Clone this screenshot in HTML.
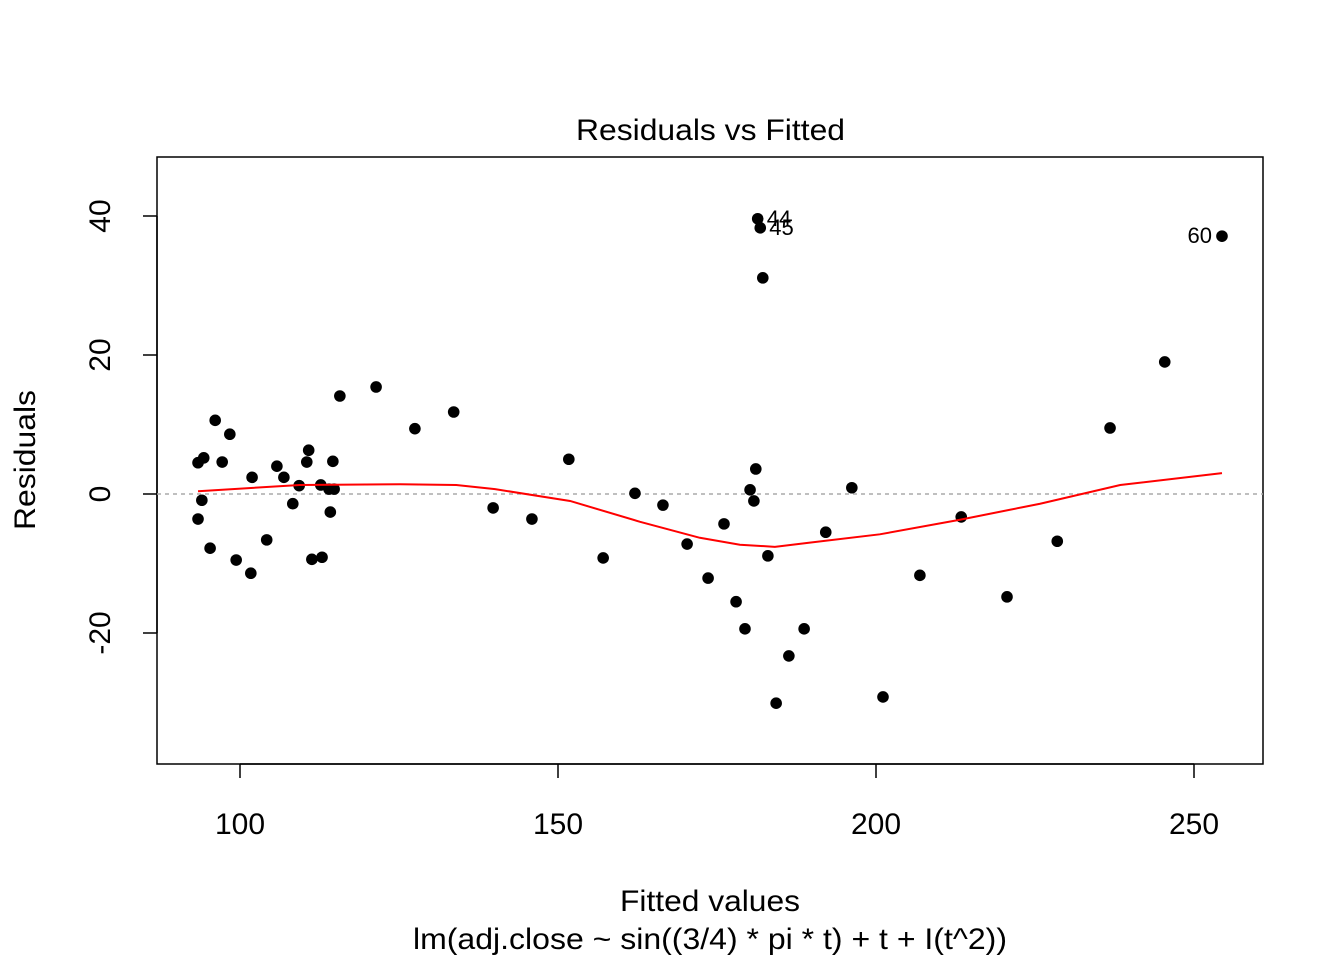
<!DOCTYPE html>
<html><head><meta charset="utf-8"><style>
body{margin:0;background:#fff}
svg text{font-family:"Liberation Sans",Arial,sans-serif;fill:#000}
</style></head><body>
<svg id="chart" width="1344" height="960">
<text x="576" y="140" font-size="30" textLength="269" lengthAdjust="spacingAndGlyphs">Residuals vs Fitted</text>
<rect x="157" y="157" width="1106" height="607" fill="none" stroke="#000" stroke-width="1.5"/>
<g id="xaxis"></g>
<g id="yaxis"></g>
<line x1="157" x2="1263" y1="494" y2="494" stroke="#aaa" stroke-width="1.5" stroke-dasharray="4,4"/>
<g id="marks"></g>
<text x="620" y="911" font-size="30" textLength="180" lengthAdjust="spacingAndGlyphs">Fitted values</text>
<text x="413" y="949" font-size="30" textLength="594" lengthAdjust="spacingAndGlyphs">lm(adj.close ~ sin((3/4) * pi * t) + t + I(t^2))</text>
<text transform="translate(35,530) rotate(-90)" font-size="30" textLength="140" lengthAdjust="spacingAndGlyphs">Residuals</text>
</svg>
<script>
const fitted=[93.4,94.3,96.1,97.2,98.4,93.4,94.0,95.3,99.4,101.7,101.9,104.2,105.8,106.9,108.3,109.3,110.5,110.8,111.3,112.7,112.9,114.0,114.2,114.8,114.6,115.7,121.4,127.5,133.6,139.8,145.9,151.7,157.1,162.1,166.5,170.3,173.6,176.1,178.0,179.4,181.1,180.2,180.8,181.4,181.8,182.2,183.0,184.3,186.3,188.7,192.1,196.2,201.1,206.9,213.4,220.6,228.5,236.8,245.4,254.4];
const residuals=[4.5,5.2,10.6,4.6,8.6,-3.6,-0.9,-7.8,-9.5,-11.4,2.4,-6.6,4.0,2.4,-1.4,1.2,4.6,6.3,-9.4,1.3,-9.1,0.7,-2.6,0.7,4.7,14.1,15.4,9.4,11.8,-2.0,-3.6,5.0,-9.2,0.1,-1.6,-7.2,-12.1,-4.3,-15.5,-19.4,3.6,0.6,-1.0,39.6,38.3,31.1,-8.9,-30.1,-23.3,-19.4,-5.5,0.9,-29.2,-11.7,-3.3,-14.8,-6.8,9.5,19.0,37.1];
const smoothX=[93.4,109.4,125.2,134.0,140.1,151.9,162.9,172.3,178.6,184.1,189.6,200.6,213.2,225.8,238.4,254.4];
const smoothY=[0.4,1.3,1.4,1.3,0.7,-1.0,-4.0,-6.3,-7.3,-7.6,-7.0,-5.8,-3.7,-1.4,1.3,3.0];
const xTicks=[100,150,200,250];
const yTicks=[-20,0,20,40];
const outlierIdx=[43,44,59];
const outlierLabels=["44","45","60"];
const NS="http://www.w3.org/2000/svg";
const sx=v=>240+(v-100)*6.36;
const sy=v=>494-v*6.95;
function mk(t,a,p){const e=document.createElementNS(NS,t);for(const k in a)e.setAttribute(k,a[k]);p.appendChild(e);return e;}
const xa=document.getElementById('xaxis'),ya=document.getElementById('yaxis'),mg=document.getElementById('marks');
mk('line',{x1:sx(xTicks[0]),x2:sx(xTicks[xTicks.length-1]),y1:764,y2:764,stroke:'#000','stroke-width':1.5},xa);
xTicks.forEach(t=>{mk('line',{x1:sx(t),x2:sx(t),y1:764,y2:778,stroke:'#000','stroke-width':1.5},xa);
const tx=mk('text',{x:sx(t),y:834,'font-size':30,'text-anchor':'middle'},xa);tx.textContent=t;

});
mk('line',{x1:157,x2:157,y1:sy(yTicks[0]),y2:sy(yTicks[yTicks.length-1]),stroke:'#000','stroke-width':1.5},ya);
yTicks.forEach(t=>{mk('line',{x1:143,x2:157,y1:sy(t),y2:sy(t),stroke:'#000','stroke-width':1.5},ya);
const tx=mk('text',{transform:`translate(110,${sy(t)}) rotate(-90)`,'font-size':30,'text-anchor':'middle'},ya);tx.textContent=t;

});
fitted.forEach((f,i)=>{const c=mk('circle',{cx:sx(f),cy:sy(residuals[i]),r:5.8,fill:'#000'},mg);

});
const p=mk('polyline',{points:smoothX.map((x,i)=>sx(x)+','+sy(smoothY[i])).join(' '),fill:'none',stroke:'#f00','stroke-width':2},mg);


outlierIdx.forEach((k,j)=>{const right=j===2;
const t=mk('text',{x:right?sx(fitted[k])-10:sx(fitted[k])+9,y:sy(residuals[k])+7,'font-size':22,'text-anchor':right?'end':'start'},mg);
t.textContent=outlierLabels[j];

});
</script>
</body></html>
